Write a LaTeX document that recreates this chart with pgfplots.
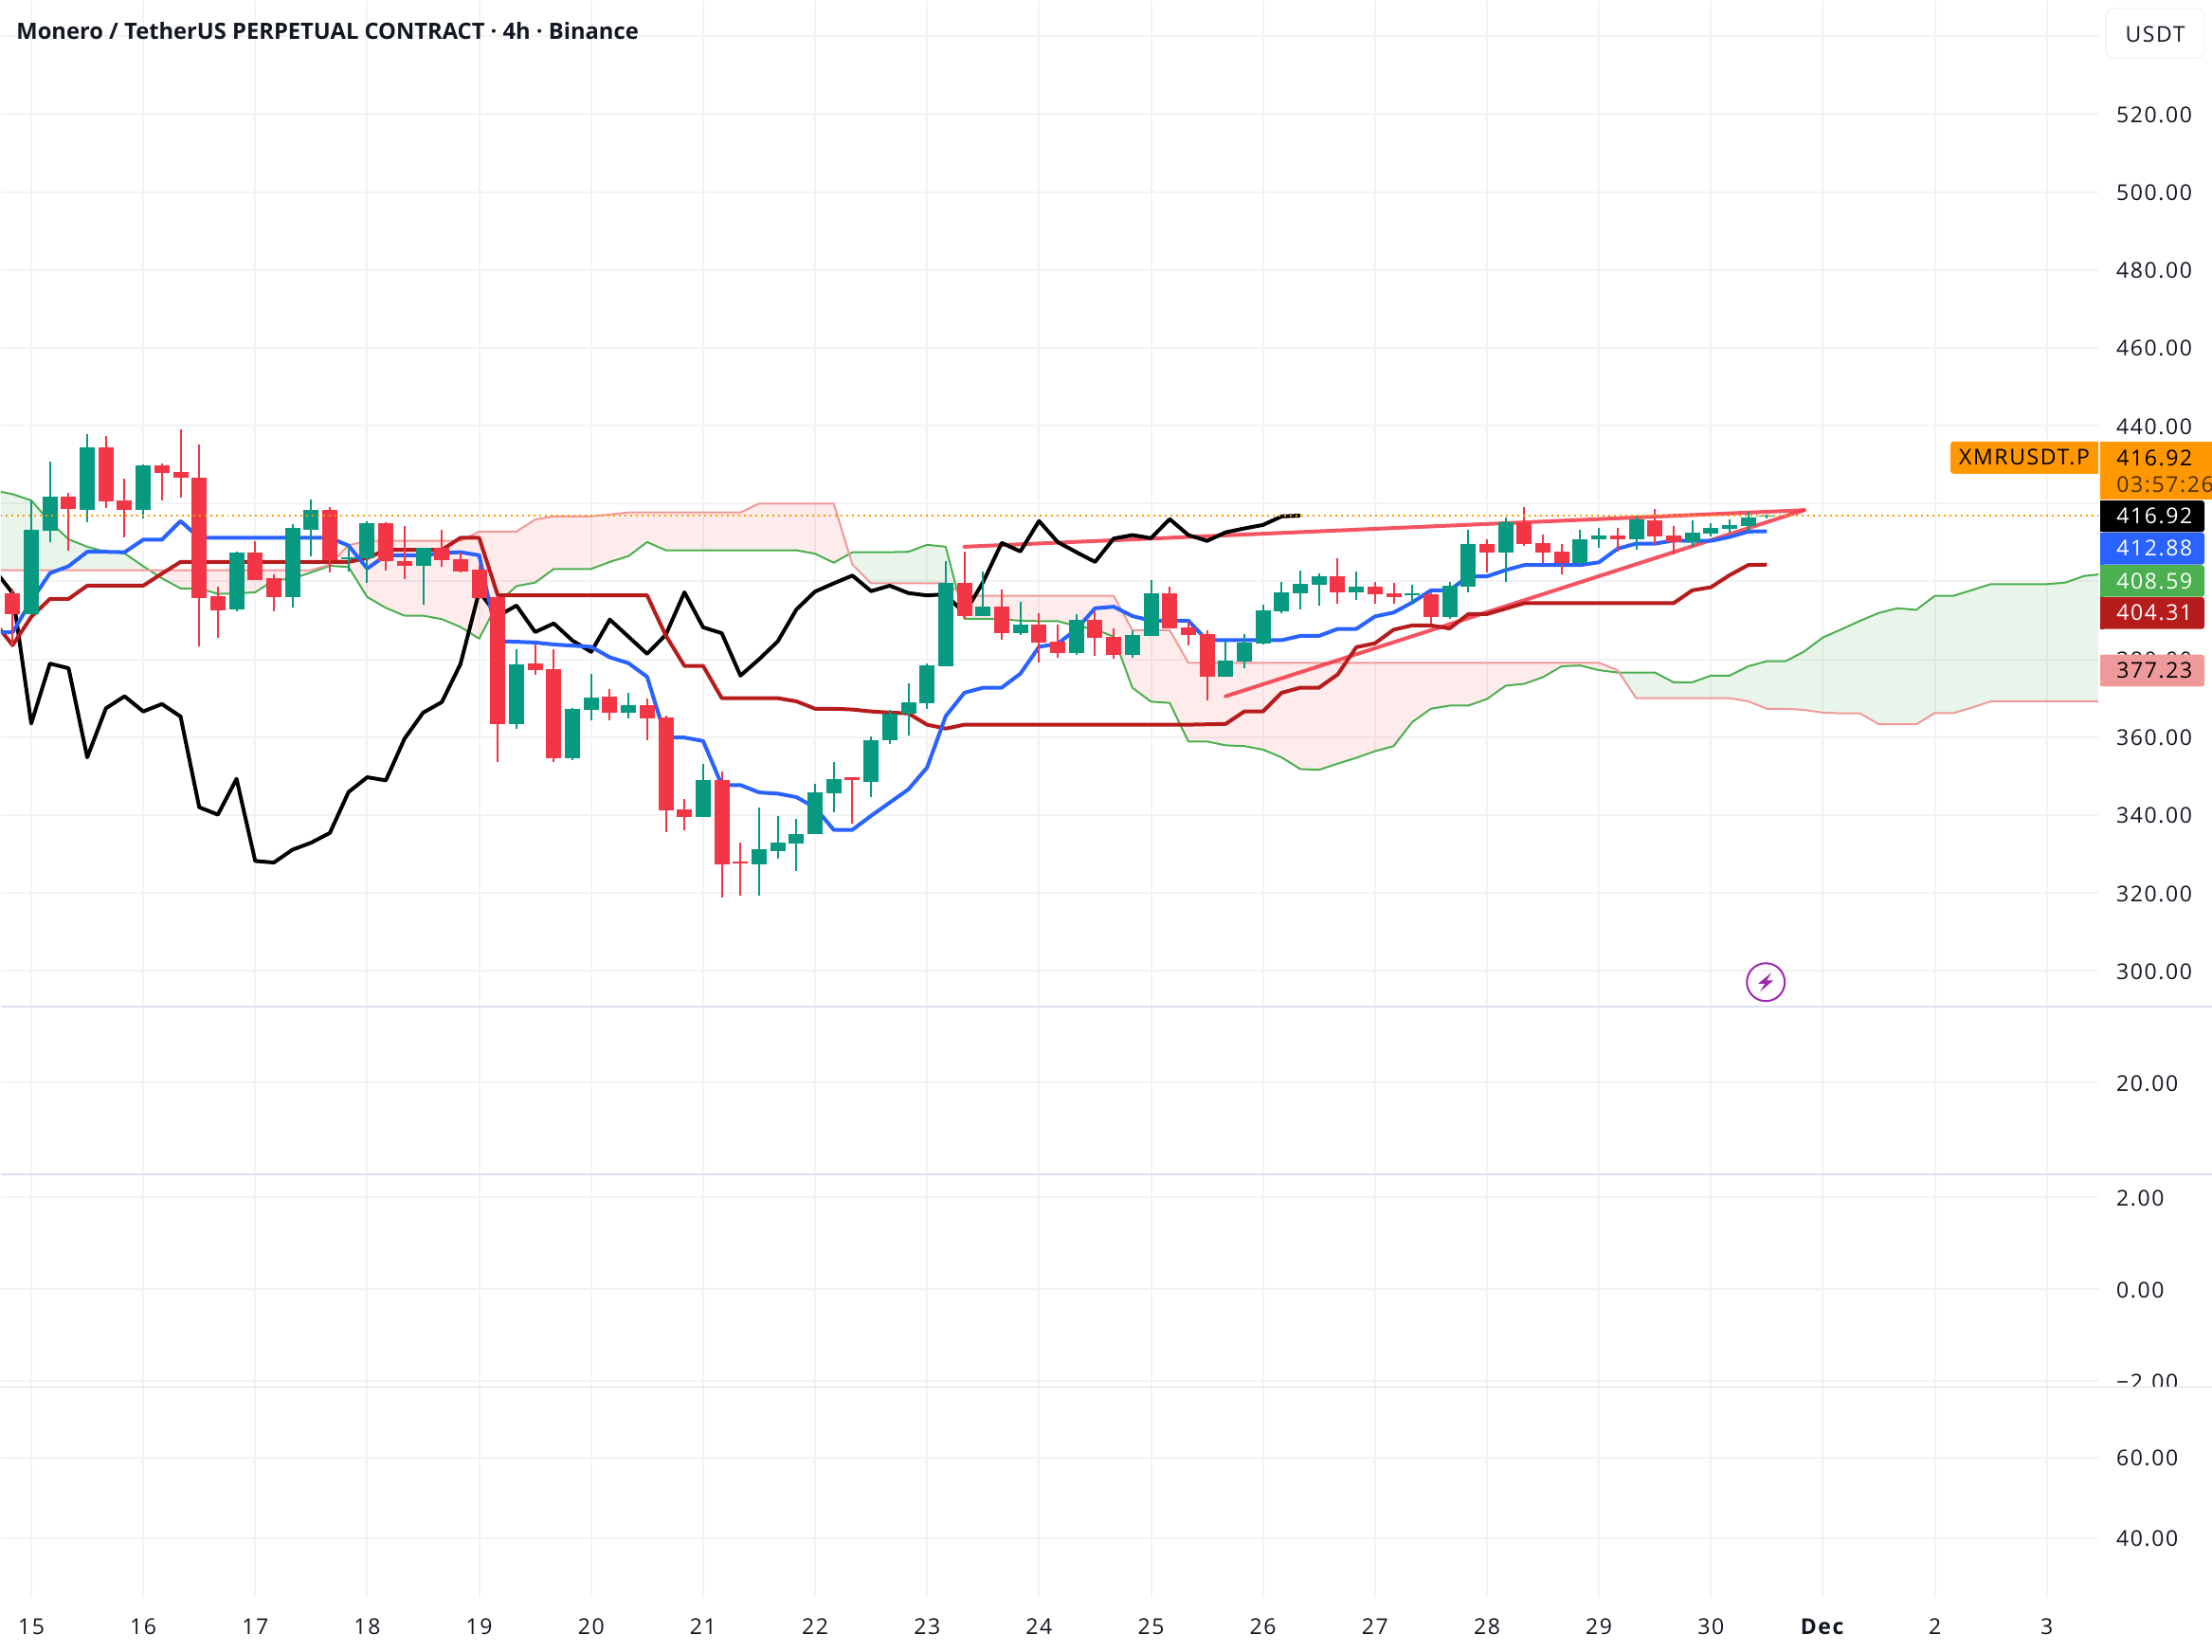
\documentclass[border=0pt]{standalone}
\usepackage{fontspec}
\setmainfont[LetterSpace=7]{Open Sans}
\newfontfamily\titlefont{Open Sans}
\usepackage{pgfplots}
\usepackage{pgfplotstable}
\pgfplotsset{compat=1.18}
\usepgfplotslibrary{fillbetween}

\definecolor{txt}{HTML}{131722}
\definecolor{gridc}{HTML}{F2F3F5}
\definecolor{upc}{HTML}{089981}
\definecolor{dnc}{HTML}{F23645}
\definecolor{tenkan}{HTML}{2962FF}
\definecolor{kijun}{HTML}{B71C1C}
\definecolor{spanA}{HTML}{4CAF50}
\definecolor{spanB}{HTML}{EF9A9A}
\definecolor{orng}{HTML}{FF9800}
\definecolor{pane}{HTML}{DDDFEE}
\definecolor{bolt}{HTML}{9C27B0}

% candles, one row per 4h bar, 0 = the 15th
\pgfplotstableread{
i o h l c
0 391.5 420.8 391.5 413.3
1 413.1 430.8 410.2 421.8
3 418.4 437.9 415.3 434.5
6 418.4 430.1 416.2 429.9
11 392.9 407.7 392.2 407.5
14 396.0 414.8 393.4 413.8
15 413.3 421.1 406.5 418.4
17 405.6 409.2 402.6 406.3
18 406.0 415.5 399.5 415.0
21 404.1 408.7 393.9 408.7
26 363.4 382.6 362.2 378.8
29 354.7 367.6 354.2 367.3
30 367.1 376.3 364.4 370.2
32 366.3 371.4 364.9 368.3
36 339.6 353.2 339.6 349.1
39 327.4 342.0 319.4 331.1
40 330.8 339.8 328.9 333.0
41 332.8 339.1 325.5 335.2
42 335.2 348.1 335.0 345.9
43 345.7 353.5 340.8 349.3
45 348.6 360.3 344.7 359.3
46 359.3 367.1 358.3 366.1
47 366.1 373.9 360.5 369.0
48 368.8 379.0 367.3 378.5
49 378.3 405.3 378.3 399.7
51 391.1 402.6 391.1 393.6
53 386.8 394.8 386.3 389.0
56 381.7 391.6 381.2 390.2
59 381.2 387.5 380.4 386.3
60 386.0 400.4 386.0 397.0
64 375.6 384.8 375.6 379.7
65 379.5 386.5 377.8 384.3
66 384.1 394.1 383.8 392.6
67 392.4 399.9 391.9 397.2
68 397.0 402.8 392.9 399.4
69 399.2 402.1 393.8 401.4
71 397.2 402.6 395.3 398.7
74 396.5 399.2 394.1 397.0
76 390.9 399.9 390.4 399.0
77 398.7 413.3 397.3 409.7
79 407.5 416.5 399.9 415.3
83 404.8 413.3 404.3 410.9
84 410.9 413.8 408.7 411.8
86 410.9 416.7 408.2 416.0
89 410.1 415.7 408.9 412.6
90 412.3 415.0 411.6 413.8
91 413.5 416.0 412.6 414.5
92 414.3 417.9 412.8 416.5
93 416.8 417.2 416.2 417.0
}\upbars
\pgfplotstableread{
i o h l c
-1 397.0 398.2 383.6 391.5
2 421.8 422.8 408.0 418.5
4 434.5 437.4 418.9 420.6
5 420.9 426.5 411.4 418.4
7 429.9 430.4 420.9 427.9
8 428.2 439.1 421.6 426.7
9 426.7 435.2 383.2 395.8
10 396.3 398.7 385.6 392.6
12 407.5 410.4 400.4 400.4
13 400.9 401.9 392.2 396.0
16 418.4 419.2 402.4 405.5
19 415.0 415.3 402.9 405.1
20 405.1 414.1 400.7 404.1
22 408.7 413.3 403.8 405.5
23 405.8 407.5 402.4 402.6
24 403.1 404.3 395.5 395.8
25 396.0 396.3 353.5 363.4
27 379.0 383.9 376.1 377.3
28 377.5 382.6 353.5 354.7
31 370.5 372.4 364.4 366.3
33 368.3 370.0 359.3 364.9
34 365.1 365.6 335.7 341.3
35 341.5 344.0 336.2 339.6
37 349.1 351.3 318.9 327.4
38 328.0 333.0 319.4 327.5
44 349.6 349.6 337.9 349.1
50 399.7 407.7 390.4 391.1
52 393.6 398.0 385.1 386.8
54 389.0 391.9 379.2 384.3
55 384.6 389.0 380.4 381.7
57 390.2 392.4 380.9 385.6
58 385.8 388.0 380.2 381.2
61 397.0 398.7 388.0 388.0
62 388.2 389.7 383.6 386.3
63 386.5 387.5 369.5 375.6
70 401.4 406.0 394.3 397.2
72 398.7 399.9 394.3 396.7
73 397.0 399.7 394.3 396.0
75 396.8 397.3 389.2 390.9
78 409.7 410.9 402.4 407.5
80 415.3 419.2 409.2 409.7
81 409.9 412.1 404.8 407.5
82 407.7 409.7 401.9 404.8
85 411.8 413.8 407.7 410.9
87 415.7 418.7 409.4 411.6
88 411.8 414.3 407.0 410.1
}\dnbars

\pgfplotsset{
  wick/.style={draw=none,mark=none,forget plot,
    error bars/.cd,y dir=plus,y explicit,error mark=none,
    error bar style={line width=1pt,draw=#1,line cap=butt}},
  body/.style={draw=none,mark=none,forget plot,
    error bars/.cd,y dir=plus,y explicit,error mark=none,
    error bar style={line width=8pt,draw=#1,line cap=butt}},
}

\begin{document}
\begin{tikzpicture}
\begin{axis}[
    at={(0,0)},anchor=north west,
    width=1107pt,height=843pt,scale only axis,
    xmin=-1.6244,xmax=110.76,
    ymin=138.86,ymax=549.07,
    axis line style={draw=none},
    major tick length=0pt,
    grid=major,
    grid style={line width=1pt,draw=gridc},
    xtick={0,6,12,18,24,30,36,42,48,54,60,66,72,78,84,90,96,102,108},
    xticklabels={15,16,17,18,19,20,21,22,23,24,25,26,27,28,29,30,\textbf{Dec},2,3},
    ytick={154.3,174.96,194.65,218.25,241.85,271.3,300,320,340,360,380,400,420,440,460,480,500,520,540},
    yticklabels={40.00,60.00,−2.00,0.00,2.00,20.00,300.00,320.00,340.00,360.00,380.00,,,440.00,460.00,480.00,500.00,520.00,},
    yticklabel pos=right,
    yticklabel style={anchor=west,xshift=6pt,yshift=-.4pt},
    xticklabel style={anchor=base,yshift=-19pt},
    ticklabel style={font=\fontsize{11.5pt}{13pt}\selectfont,text=txt},
]
% cloud edges
\addplot[name path=A,spanA,line width=1pt,line join=round,forget plot] coordinates {
(-2,423.4)(-1,422.4)(0,420.8)(1,415.3)(2,410.8)(3,408.9)(4,407.6)(5,407.2)(6,403.9)(7,400.8)(8,398.2)(9,398.2)(10,396.8)(11,396.9)(12,397.2)(13,400.3)(14,400.7)(15,402.3)(16,404.0)(17,403.7)(18,396.0)(19,393.2)(20,391.2)(21,391.2)(22,390.3)(23,388.3)(24,385.3)(25,394.5)(26,398.8)(27,399.7)(28,403.2)(29,403.2)(30,403.2)(31,405.0)(32,406.5)(33,410.1)(34,408.0)(35,408.0)(36,408.0)(37,408.0)(38,408.0)(39,408.0)(40,408.0)(41,408.0)(42,407.1)(43,404.8)(44,407.5)(45,407.5)(46,407.5)(47,407.6)(48,409.4)(49,408.9)(50,390.4)(51,390.4)(52,390.3)(53,389.9)(54,389.8)(55,389.8)(56,388.5)(57,387.7)(58,385.8)(59,372.7)(60,369.1)(61,368.8)(62,358.9)(63,358.9)(64,357.9)(65,357.7)(66,356.8)(67,354.8)(68,351.8)(69,351.6)(70,353.2)(71,354.7)(72,356.4)(73,357.7)(74,363.9)(75,367.3)(76,368.1)(77,368.1)(78,369.8)(79,373.2)(80,373.7)(81,375.4)(82,378.2)(83,378.4)(84,377.2)(85,376.6)(86,376.6)(87,376.6)(88,374.1)(89,374.1)(90,375.8)(91,375.8)(92,378.2)(93,379.5)(94,379.5)(95,382.0)(96,385.6)(97,387.7)(98,389.9)(99,391.9)(100,393.1)(101,392.7)(102,396.3)(103,396.3)(104,397.8)(105,399.3)(106,399.3)(107,399.3)(108,399.3)(109,399.7)(110,401.4)(111,401.9)};
\addplot[name path=B,spanB,line width=1pt,line join=round,forget plot] coordinates {
(-2,402.9)(-1,402.9)(0,402.9)(1,402.9)(2,402.9)(3,402.9)(4,402.9)(5,402.9)(6,402.9)(7,402.9)(8,402.9)(9,402.9)(10,402.9)(11,402.9)(12,402.9)(13,402.9)(14,402.9)(15,402.9)(16,404.3)(17,409.3)(18,410.4)(19,410.4)(20,410.4)(21,410.4)(22,410.4)(23,410.4)(24,412.8)(25,412.8)(26,412.8)(27,415.9)(28,416.7)(29,416.7)(30,416.7)(31,417.2)(32,417.7)(33,417.7)(34,417.7)(35,417.7)(36,417.7)(37,417.7)(38,417.7)(39,420.0)(40,420.0)(41,420.0)(42,420.0)(43,420.0)(44,404.3)(45,399.5)(46,399.5)(47,399.5)(48,399.5)(49,399.5)(50,396.3)(51,396.3)(52,396.3)(53,396.3)(54,396.3)(55,396.3)(56,396.3)(57,396.3)(58,396.3)(59,387.5)(60,387.5)(61,387.5)(62,379.1)(63,379.1)(64,379.1)(65,379.1)(66,379.1)(67,379.1)(68,379.1)(69,379.1)(70,379.1)(71,379.1)(72,379.1)(73,379.1)(74,379.1)(75,379.1)(76,379.1)(77,379.1)(78,379.1)(79,379.1)(80,379.1)(81,379.1)(82,379.1)(83,379.1)(84,379.1)(85,377.2)(86,370.0)(87,370.0)(88,370.0)(89,370.0)(90,370.0)(91,370.0)(92,369.2)(93,367.3)(94,367.3)(95,367.0)(96,366.3)(97,366.1)(98,366.1)(99,363.3)(100,363.3)(101,363.3)(102,366.2)(103,366.2)(104,367.6)(105,369.2)(106,369.2)(107,369.2)(108,369.2)(109,369.2)(110,369.2)(111,369.2)};
\addplot[forget plot] fill between[of=A and B,split,
    every even segment/.style={fill=spanA,fill opacity=.12},
    every odd segment/.style={fill=dnc,fill opacity=.1}];
% trend lines
\addplot[dnc,opacity=.85,line width=2pt,line cap=round,forget plot] coordinates {(50,408.9)(95,418.3)};
\addplot[dnc,opacity=.85,line width=2pt,line cap=round,forget plot] coordinates {(64,370.5)(95,418.3)};
% lagging span
\addplot[black,line width=2pt,line join=round,forget plot] coordinates {
(-2,403.1)(-1,397.0)(0,363.5)(1,378.9)(2,377.7)(3,354.8)(4,367.4)(5,370.5)(6,366.6)(7,368.5)(8,365.3)(9,342.0)(10,340.1)(11,349.3)(12,328.2)(13,327.8)(14,331.1)(15,332.9)(16,335.4)(17,345.9)(18,349.7)(19,348.9)(20,359.6)(21,366.3)(22,369.0)(23,378.8)(24,397.4)(25,391.1)(26,393.8)(27,387.0)(28,389.2)(29,384.8)(30,381.9)(31,390.2)(32,385.8)(33,381.4)(34,386.3)(35,397.2)(36,388.2)(37,386.7)(38,375.8)(39,380.0)(40,384.6)(41,392.8)(42,397.4)(43,399.5)(44,401.5)(45,397.5)(46,398.9)(47,397.0)(48,396.4)(49,396.7)(50,391.7)(51,399.8)(52,409.9)(53,407.7)(54,415.5)(55,410.1)(56,407.5)(57,405.0)(58,411.0)(59,411.9)(60,411.1)(61,416.0)(62,411.9)(63,410.4)(64,412.6)(65,413.6)(66,414.5)(67,416.7)(68,416.9)};
% kijun
\addplot[kijun,line width=2pt,line join=round,forget plot] coordinates {
(-2,389.7)(-1,383.6)(0,390.9)(1,395.5)(2,395.5)(3,398.9)(4,398.9)(5,398.9)(6,398.9)(7,402.0)(8,405.0)(9,405.0)(10,405.0)(11,405.0)(12,405.0)(13,405.0)(14,405.0)(15,405.0)(16,405.0)(17,405.0)(18,406.0)(19,408.1)(20,408.1)(21,408.1)(22,408.1)(23,411.2)(24,411.2)(25,396.4)(26,396.4)(27,396.4)(28,396.4)(29,396.4)(30,396.4)(31,396.4)(32,396.4)(33,396.4)(34,386.1)(35,378.3)(36,378.3)(37,370.0)(38,370.0)(39,370.0)(40,370.0)(41,369.2)(42,367.3)(43,367.3)(44,367.1)(45,366.6)(46,366.3)(47,366.1)(48,363.2)(49,362.2)(50,363.2)(51,363.2)(52,363.2)(53,363.2)(54,363.2)(55,363.2)(56,363.2)(57,363.2)(58,363.2)(59,363.2)(60,363.2)(61,363.2)(62,363.2)(63,363.3)(64,363.4)(65,366.6)(66,366.6)(67,371.4)(68,372.7)(69,372.7)(70,376.1)(71,383.1)(72,384.1)(73,387.6)(74,388.7)(75,388.7)(76,387.9)(77,391.6)(78,391.6)(79,393.0)(80,394.4)(81,394.4)(82,394.4)(83,394.4)(84,394.4)(85,394.4)(86,394.4)(87,394.4)(88,394.4)(89,397.7)(90,398.5)(91,401.6)(92,404.2)(93,404.31)};
% tenkan
\addplot[tenkan,line width=2pt,line join=round,forget plot] coordinates {
(-2,386.9)(-1,386.9)(0,395.0)(1,402.1)(2,403.9)(3,407.6)(4,407.6)(5,407.5)(6,410.7)(7,410.7)(8,415.5)(9,411.2)(10,411.2)(11,411.2)(12,411.2)(13,411.2)(14,411.2)(15,411.2)(16,411.2)(17,409.2)(18,403.3)(19,406.7)(20,406.7)(21,406.7)(22,407.3)(23,407.5)(24,406.7)(25,384.6)(26,384.5)(27,384.3)(28,383.8)(29,383.5)(30,383.2)(31,380.5)(32,379.0)(33,375.5)(34,359.9)(35,359.9)(36,359.0)(37,347.7)(38,347.7)(39,345.8)(40,345.5)(41,344.6)(42,341.9)(43,336.2)(44,336.2)(45,339.8)(46,343.2)(47,346.6)(48,352.2)(49,365.4)(50,371.4)(51,372.7)(52,372.7)(53,376.3)(54,383.2)(55,384.0)(56,387.7)(57,393.1)(58,393.5)(59,391.1)(60,389.9)(61,389.9)(62,389.9)(63,384.9)(64,384.9)(65,384.9)(66,384.9)(67,384.9)(68,386.0)(69,386.0)(70,387.8)(71,387.8)(72,391.0)(73,392.0)(74,394.6)(75,397.7)(76,397.7)(77,401.3)(78,401.3)(79,402.9)(80,404.2)(81,404.2)(82,404.2)(83,404.2)(84,404.9)(85,408.4)(86,409.7)(87,409.7)(88,410.5)(89,410.4)(90,410.4)(91,411.4)(92,412.8)(93,412.88)};
% candles
\addplot[wick=upc] table[x=i,y=l,y error plus expr=\thisrow{h}-\thisrow{l}] {\upbars};
\addplot[wick=dnc] table[x=i,y=l,y error plus expr=\thisrow{h}-\thisrow{l}] {\dnbars};
\addplot[body=upc] table[x=i,y=o,y error plus expr=\thisrow{c}-\thisrow{o}] {\upbars};
\addplot[body=dnc] table[x=i,y=c,y error plus expr=\thisrow{o}-\thisrow{c}] {\dnbars};
% last price
\addplot[orng,line width=.9pt,dash pattern=on 1pt off 2pt,forget plot] coordinates {(-2,416.92)(111,416.92)};
\end{axis}
\path[use as bounding box] (0,0) rectangle (1167pt,-871pt);

\begin{scope}[x=0.5pt,y=-0.5pt,font=\fontsize{11.5pt}{13pt}\selectfont]
% pane separators
\fill[white] (2216,1463) rectangle (2334,1478);
\foreach \yy in {1061.7,1238.6,1463} \draw[pane,line width=.8pt] (0,\yy) -- (2334,\yy);
% title
\node[anchor=base west,inner sep=0,text=txt,font=\fontsize{11.87pt}{14pt}\selectfont\titlefont\bfseries] at (16,41) {Monero / TetherUS PERPETUAL CONTRACT · 4h · Binance};
% unit button
\draw[gridc,line width=.7pt,rounded corners=4pt,fill=white] (2222,8) rectangle (2326,60);
\node[text=txt] at (2274,35) {USDT};
% symbol and price tags
\fill[orng,rounded corners=1.5pt] (2058,465) rectangle (2214,499);
\fill[orng] (2210,465) rectangle (2214,499);
\node[text=black] at (2136,482) {XMRUSDT.P};
\fill[orng] (2216,465) rectangle (2334,526.7);
\node[text=black,anchor=west,inner sep=0] at (2233,482.7) {416.92};
\node[text={rgb,255:red,77;green,49;blue,0},anchor=west,inner sep=0] at (2233,510.7) {03:57:26};
\fill[black,rounded corners=1.5pt] (2216,527.3) rectangle (2326,560.7);
\fill[black] (2216,527.3) rectangle (2220,560.7);
\node[text=white,anchor=west,inner sep=0] at (2233,544) {416.92};
\fill[tenkan,rounded corners=1.5pt] (2216,561) rectangle (2326,595);
\fill[tenkan] (2216,561) rectangle (2220,595);
\node[text=white,anchor=west,inner sep=0] at (2233,578) {412.88};
\fill[spanA,rounded corners=1.5pt] (2216,595.5) rectangle (2326,629);
\fill[spanA] (2216,595.5) rectangle (2220,629);
\node[text=white,anchor=west,inner sep=0] at (2233,612.3) {408.59};
\fill[kijun,rounded corners=1.5pt] (2216,629.3) rectangle (2326,663);
\fill[kijun] (2216,629.3) rectangle (2220,663);
\node[text=white,anchor=west,inner sep=0] at (2233,646) {404.31};
\fill[spanB,rounded corners=1.5pt] (2216,690) rectangle (2326,723.7);
\fill[spanB] (2216,690) rectangle (2220,723.7);
\node[text=black,anchor=west,inner sep=0] at (2233,706.7) {377.23};
% lightning marker
\draw[bolt,line width=1pt] (1863,1035.7) circle[radius=10pt];
\fill[bolt] (1869,1025.7) -- (1855,1037.2) -- (1862,1037.2) -- (1857,1045.7) -- (1871,1033.7) -- (1864,1033.7) -- cycle;
\end{scope}
\end{tikzpicture}
\end{document}
